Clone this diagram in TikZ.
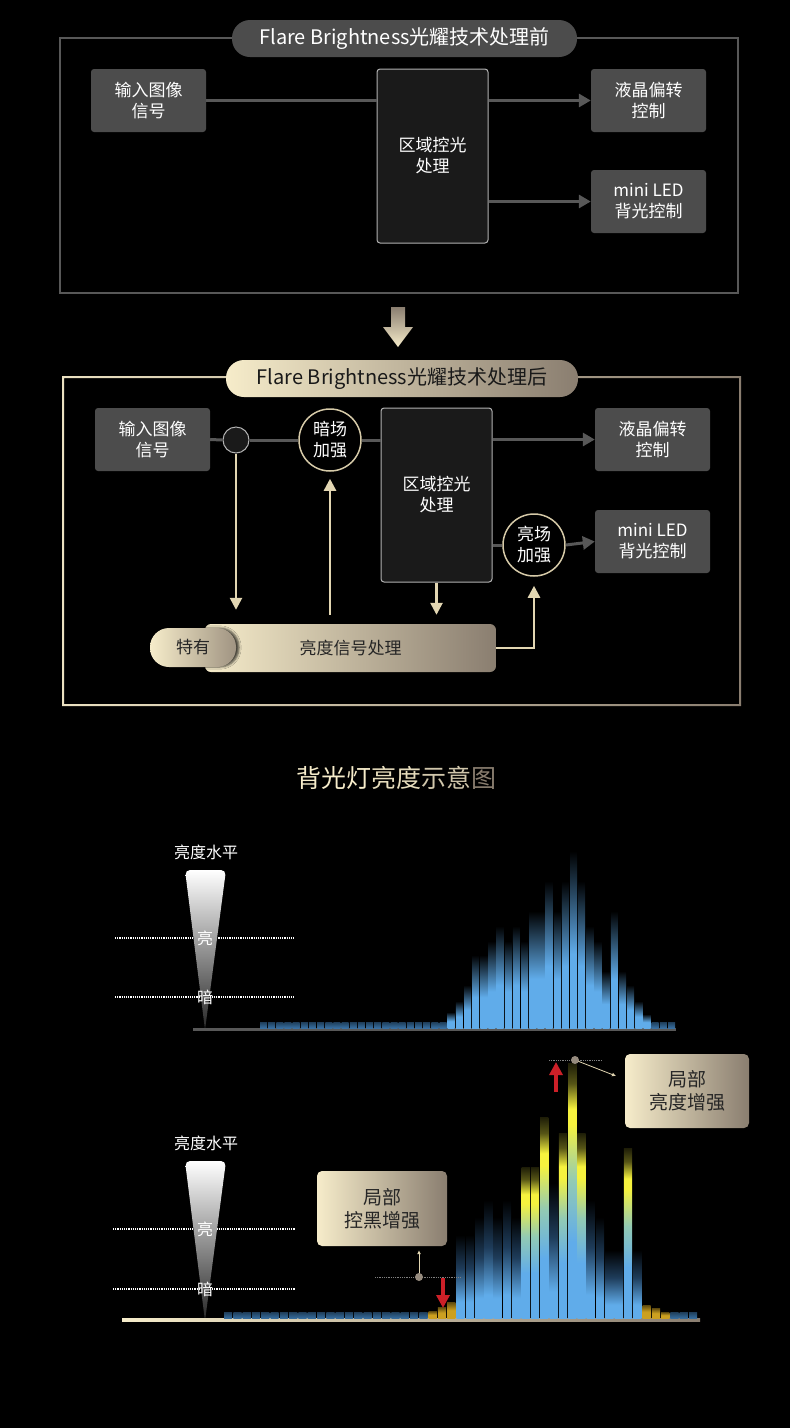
\documentclass[tikz,border=0pt]{standalone}
\usepackage{fontspec}
\setmainfont{Noto Sans CJK SC}
\usetikzlibrary{arrows.meta,positioning,calc,shadows.blur}
\definecolor{panelgrey}{RGB}{76,76,76}
\definecolor{linegrey}{RGB}{88,88,88}
\definecolor{boxdark}{RGB}{26,26,26}
\definecolor{cream}{RGB}{246,236,202}
\definecolor{taupe}{RGB}{138,126,112}
\definecolor{creamline}{RGB}{226,214,178}
\definecolor{ringcream}{RGB}{214,202,168}
\definecolor{barblue}{RGB}{96,172,234}
\definecolor{barnavy}{RGB}{30,60,90}
\definecolor{lowblue}{RGB}{56,112,162}
\definecolor{bargold}{RGB}{204,160,32}
\definecolor{baryellow}{RGB}{246,242,62}
\definecolor{barmint}{RGB}{146,202,180}
\definecolor{arrowred}{RGB}{204,32,40}
\newcommand\boxfont{\fontsize{17}{21}\selectfont}
\newcommand\pillfont{\fontsize{20}{24}\selectfont}
\newcommand\notefont{\fontsize{19}{23}\selectfont}
\pgfdeclareverticalshading{bluebar}{100bp}{color(0bp)=(barblue); color(25bp)=(barblue); color(46bp)=(barblue); color(62bp)=(barblue!45!black); color(75bp)=(black); color(100bp)=(black)}
\pgfdeclareverticalshading{deepbar}{100bp}{color(0bp)=(barblue); color(25bp)=(barblue); color(35bp)=(barblue); color(55bp)=(barnavy); color(75bp)=(black); color(100bp)=(black)}
\pgfdeclareverticalshading{yellowbar}{100bp}{color(0bp)=(barblue); color(25bp)=(barblue); color(40bp)=(barblue); color(52bp)=(barmint); color(63bp)=(baryellow); color(66bp)=(baryellow); color(71bp)=(baryellow!35!black); color(75bp)=(baryellow!12!black); color(100bp)=(baryellow!12!black)}
\pgfdeclareverticalshading{lowbar}{100bp}{color(0bp)=(lowblue); color(25bp)=(lowblue); color(75bp)=(lowblue!55!black); color(100bp)=(lowblue!55!black)}
\pgfdeclareverticalshading{goldbar}{100bp}{color(0bp)=(bargold); color(25bp)=(bargold); color(50bp)=(bargold); color(75bp)=(bargold!45!black); color(100bp)=(bargold!45!black)}

\begin{document}
\begin{tikzpicture}[x=1pt, y=-1pt,
    greybox/.style={fill=panelgrey, text=white, rounded corners=3pt, minimum width=115pt,
        minimum height=63pt, align=center, inner sep=0pt, font=\boxfont},
    zonebox/.style={fill=boxdark, draw=gray!60, line width=1pt, rounded corners=3pt,
        minimum width=111pt, minimum height=174pt, text=white, align=center, font=\boxfont},
    pill/.style={rounded corners=18pt, minimum height=37pt, inner sep=0pt, font=\pillfont},
    ring/.style={circle, fill=black, draw=ringcream, line width=1.5pt, minimum size=62pt,
        inner sep=0pt, text=white, align=center, font=\boxfont},
    greyline/.style={draw=linegrey, line width=3pt},
    greyarrow/.style={greyline, -{Triangle[width=13pt,length=12pt]}},
    creamarrow/.style={draw=creamline, line width=2.5pt, -{Triangle[width=12pt,length=12pt]}},
    callout/.style={left color=cream, right color=taupe, rounded corners=5pt, align=center,
        inner sep=0pt, text=black!85, font=\notefont},
    dotline/.style={white, densely dotted, line width=1.2pt},
    redarrow/.style={arrowred, line width=3.5pt, -{Triangle[width=13pt,length=13pt]}},
    pointer/.style={creamline, line width=0.8pt, -{Latex[length=4pt,width=4pt]}},
    lbl/.style={text=white, font=\fontsize{16}{18}\selectfont, inner sep=0pt}]
    \useasboundingbox (0,0) rectangle (790,1428);
    \fill[black] (0,0) rectangle (790,1428);

    % before
    \draw[linegrey, line width=2pt] (60,38) rectangle (738,293);
    \node[pill, fill=panelgrey, text=white, minimum width=345pt] (titleA) at (404.5,38.5)
        {Flare Brightness光耀技术处理前};
    \node[greybox] (inA) at (148.5,100.5) {输入图像\\信号};
    \node[zonebox] (zoneA) at (432.5,156) {区域控光\\处理};
    \node[greybox] (lcdA) at (648.5,100.5) {液晶偏转\\控制};
    \node[greybox] (ledA) at (648.5,201.5) {mini LED\\背光控制};
    \draw[greyline] (inA.east) -- (inA.east -| zoneA.west);
    \draw[greyarrow] (zoneA.east |- lcdA.west) -- (lcdA.west);
    \draw[greyarrow] (zoneA.east |- ledA.west) -- (ledA.west);

    \shade[top color=taupe, bottom color=cream] (391,307) -- (405,307) -- (405,327) -- (413,327)
        -- (398,347) -- (383,327) -- (391,327) -- cycle;

    % after
    \shade[left color=cream!90!taupe, right color=taupe, even odd rule]
        (62,376) rectangle (741,706) (64,378) rectangle (739,704);
    \node[pill, left color=cream, right color=taupe, text=black!90, minimum width=352pt] (titleB)
        at (402,378.5) {Flare Brightness光耀技术处理后};
    \node[greybox] (inB) at (152.5,439.5) {输入图像\\信号};
    \node[circle, minimum size=26pt, inner sep=0pt, fill=boxdark, draw=gray!60, line width=1pt]
        (jct) at (236,440) {};
    \node[ring] (darkB) at (330,440) {暗场\\加强};
    \node[zonebox] (zoneB) at (436.5,495) {区域控光\\处理};
    \node[greybox] (lcdB) at (652.5,439.5) {液晶偏转\\控制};
    \node[greybox] (ledB) at (652.5,541.5) {mini LED\\背光控制};
    \node[ring] (brightB) at (534,545) {亮场\\加强};
    \node[left color=cream, right color=taupe, rounded corners=6pt, minimum width=291pt,
        minimum height=48pt, inner sep=0pt, font=\boxfont, text=black!85] (lum) at (350.5,648)
        {亮度信号处理};
    \node[left color=cream, right color=taupe!80!cream, rounded corners=19pt, minimum width=86pt,
        minimum height=39pt, inner sep=0pt, font=\boxfont, text=black!85,
        blur shadow={shadow xshift=3pt, shadow yshift=0pt, shadow opacity=70}] (uniq)
        at (193,647.5) {特有};
    \draw[greyline] (inB.east) -- (jct.west);
    \draw[greyline] (jct.east) -- (darkB.west);
    \draw[greyline] (darkB.east) -- (darkB.east -| zoneB.west);
    \draw[greyarrow] (zoneB.east |- lcdB.west) -- (lcdB.west);
    \draw[greyline] (zoneB.east |- brightB.west) -- (brightB.west);
    \draw[greyarrow] (brightB.east) -- (ledB.west);
    \draw[creamarrow, shorten >=14pt] (jct.south) -- (jct.south |- lum.north);
    \draw[creamarrow, shorten <=9pt, shorten >=7pt] (darkB.south |- lum.north) -- (darkB.south);
    \draw[creamarrow, shorten >=9pt] (zoneB.south) -- (zoneB.south |- lum.north);
    \draw[creamarrow, shorten >=9pt] (lum.east) -| (brightB.south);

    % chart title
    \node[font=\fontsize{25}{30}\selectfont] (chartTitle) at (396,778)
        {{\color{cream}背光灯}{\color{cream!85!taupe}亮度}{\color{cream!65!taupe}示意}{\color{taupe}图}};

    % histogram 1
    \node[lbl] (levelA) at (206,852) {亮度水平};
    \draw[dotline] (115,938) -- (295,938);
    \draw[dotline] (115,997) -- (295,997);
    \shade[top color=white, bottom color=black!85] (205,1030) [rounded corners=5pt]-- (185,870)
        -- (226,870) [sharp corners]-- cycle;
    \node[lbl] (hiA) at (205,938) {亮};
    \node[lbl] (loA) at (205,997) {暗};
    \draw[linegrey, line width=2.5pt] (193,1029.5) -- (676,1029.5);
    \foreach \i in {0,...,22,48,49,50}
        \shade[shading=lowbar] ({260+\i*8.16},1022) rectangle ({260+\i*8.16+7},1028);
    \foreach \t [count=\i from 23] in {1012,1001,985,955,955,941,926,941,926,941,911,911,881,
        911,881,851,881,926,941,971,911,971,985,1001,1014}
        \shade[shading=bluebar] ({260+\i*8.16},\t) rectangle ({260+\i*8.16+7},1028);

    % histogram 2
    \node[lbl] (levelB) at (206,1143) {亮度水平};
    \draw[dotline] (113,1229) -- (295,1229);
    \draw[dotline] (113,1289) -- (295,1289);
    \shade[top color=white, bottom color=black!85] (205,1321) [rounded corners=5pt]-- (185,1161)
        -- (226,1161) [sharp corners]-- cycle;
    \node[lbl] (hiB) at (205,1229) {亮};
    \node[lbl] (loB) at (205,1289) {暗};
    \shade[left color=cream, right color=taupe] (122,1318.5) rectangle (700,1321.5);
    \foreach \i in {0,...,21,48,49,50}
        \shade[shading=lowbar] ({224+\i*9.3},1312) rectangle ({224+\i*9.3+8.2},1318.5);
    \foreach \i/\t in {22/1311,23/1307,24/1302,45/1305,46/1308,47/1312}
        \shade[shading=goldbar] ({224+\i*9.3},\t) rectangle ({224+\i*9.3+8.2},1318.5);
    \foreach \i/\t in {25/1235,26/1235,27/1217,28/1200,29/1217,30/1200,31/1217,35/1183,39/1200,
        40/1217,41/1250,42/1250,44/1250}
        \shade[shading=deepbar] ({224+\i*9.3},\t) rectangle ({224+\i*9.3+8.2},1318.5);
    \foreach \i/\t in {32/1167,33/1167,34/1117,36/1133,37/1063,38/1133,43/1148}
        \shade[shading=yellowbar] ({224+\i*9.3},\t) rectangle ({224+\i*9.3+8.2},1318.5);

    \node[callout, minimum width=124pt, minimum height=74pt] (peakNote) at (687,1091)
        {局部\\亮度增强};
    \node[callout, minimum width=130pt, minimum height=75pt] (darkNote) at (382,1208.5)
        {局部\\控黑增强};
    \draw[gray, densely dotted, line width=0.8pt] (549,1060) -- (602,1060);
    \draw[gray, densely dotted, line width=0.8pt] (375,1277) -- (460,1277);
    \coordinate (peakDot) at (575,1060);
    \coordinate (peakTip) at (616,1076);
    \coordinate (darkDot) at (419,1277);
    \draw[pointer] (peakDot) -- (peakTip);
    \draw[pointer, shorten >=4pt] (darkDot) -- (darkDot |- darkNote.south);
    \fill[taupe!90!white] (peakDot) circle (4);
    \fill[taupe!90!white] (darkDot) circle (4);
    \draw[redarrow] (556,1092) -- (556,1062);
    \draw[redarrow] (443,1278) -- (443,1308);
\end{tikzpicture}
\end{document}
